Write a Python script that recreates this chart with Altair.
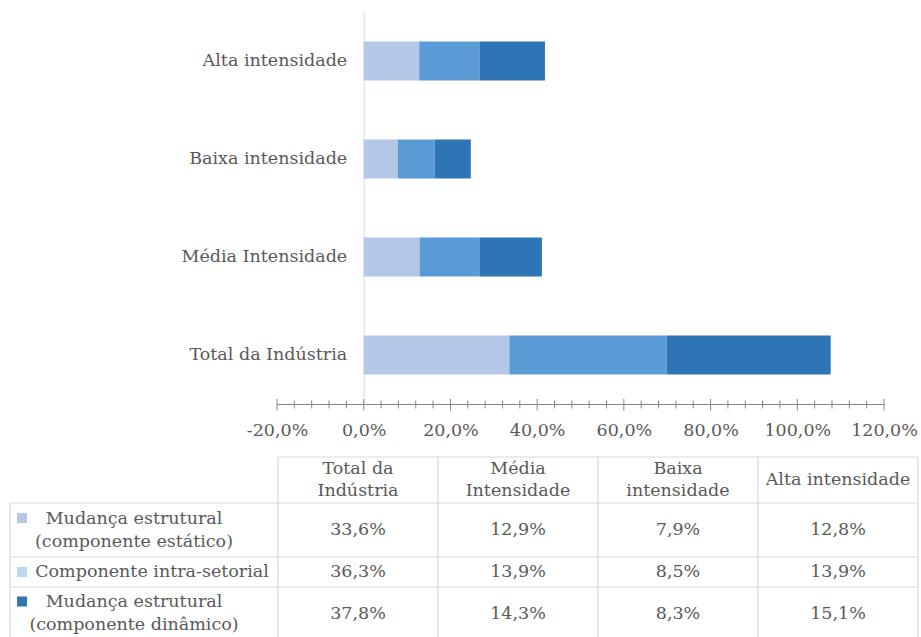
import altair as alt
import pandas as pd

# ---------------- data ----------------
categories = ["Total da Indústria", "Média Intensidade", "Baixa intensidade", "Alta intensidade"]
header_labels = ["Total da\nIndústria", "Média\nIntensidade", "Baixa\nintensidade", "Alta intensidade"]
series = ["Mudança estrutural (componente estático)",
          "Componente intra-setorial",
          "Mudança estrutural (componente dinâmico)"]
series_labels = ["Mudança estrutural\n(componente estático)",
                 "Componente intra-setorial",
                 "Mudança estrutural\n(componente dinâmico)"]
static_vals = [33.6, 12.9, 7.9, 12.8]
intra_vals = [36.3, 13.9, 8.5, 13.9]
dynamic_vals = [37.8, 14.3, 8.3, 15.1]
bar_colors = ["#B4C7E7", "#5B9BD5", "#2E75B6"]
swatch_colors = ["#B4C7E7", "#BDD7EE", "#2E75B6"]
x_tick_values = [-20, 0, 20, 40, 60, 80, 100, 120]
minor_tick_values = list(range(-20, 121, 4))

FONT = "DejaVu Serif"
FS = 17.5
TXT = "#595959"
GRID = "#D9D9D9"
AXIS = "#868686"

W, H = 607, 392

all_vals = [static_vals, intra_vals, dynamic_vals]
rows = []
for si, s in enumerate(series):
    for ci, c in enumerate(categories):
        rows.append({"category": c, "series": s, "sidx": si, "value": all_vals[si][ci]})
bar_df = pd.DataFrame(rows)
y_order = list(reversed(categories))

xscale = alt.Scale(domain=[-20, 120], nice=False, zero=False)

bars = alt.Chart(bar_df).mark_bar().encode(
    x=alt.X("value:Q", stack="zero", scale=xscale, title=None,
            axis=alt.Axis(values=x_tick_values, ticks=False, grid=False,
                          domainColor=AXIS, labelFont=FONT, labelFontSize=FS,
                          labelColor=TXT, labelPadding=17, labelFlush=False,
                          labelExpr="replace(replace(format(datum.value, '.1f'), '.', ','), '\u2212', '-') + '%'")),
    y=alt.Y("category:N", sort=y_order, title=None,
            scale=alt.Scale(paddingInner=0.6, paddingOuter=0.3),
            axis=alt.Axis(offset=-86.7, ticks=False, domainColor=GRID, grid=False,
                          labelFont=FONT, labelFontSize=FS, labelColor=TXT, labelPadding=17)),
    color=alt.Color("series:N", scale=alt.Scale(domain=series, range=bar_colors), legend=None),
    order=alt.Order("sidx:Q"),
)

tick_df = pd.DataFrame({"t": minor_tick_values,
                        "major": [v in x_tick_values for v in minor_tick_values]})
minor_ticks = alt.Chart(tick_df).transform_filter("!datum.major").mark_rule(color=AXIS).encode(
    x=alt.X("t:Q", scale=xscale, axis=None),
    y=alt.value(H - 3.5), y2=alt.value(H + 4.5),
)
major_ticks = alt.Chart(tick_df).transform_filter("datum.major").mark_rule(color=AXIS).encode(
    x=alt.X("t:Q", scale=xscale, axis=None),
    y=alt.value(H - 5), y2=alt.value(H + 6.5),
)

# ---------------- table ----------------
tx_scale = alt.Scale(domain=[0, 1, 5], range=[-267, 1, 641], nice=False, zero=False)
ty_scale = alt.Scale(domain=[0, 1, 2, 3, 4], range=[445, 491, 545, 575, 628], nice=False, zero=False)


def TX(f):
    return alt.X(f, type="quantitative", scale=tx_scale, axis=None)


def TY(f):
    return alt.Y(f, type="quantitative", scale=ty_scale, axis=None)


h_lines = pd.DataFrame({"r": [0, 1, 2, 3, 4], "c0": [1, 0, 0, 0, 0], "c1": [5, 5, 5, 5, 5]})
v_lines = pd.DataFrame({"c": [0, 1, 2, 3, 4, 5], "r0": [1, 0, 0, 0, 0, 0], "r1": [4, 4, 4, 4, 4, 4]})

hrule = alt.Chart(h_lines).mark_rule(color=GRID, strokeWidth=1.2).encode(
    x=TX("c0"), x2="c1", y=TY("r"))
vrule = alt.Chart(v_lines).mark_rule(color=GRID, strokeWidth=1.2).encode(
    x=TX("c"), y=TY("r0"), y2="r1")

head_df = pd.DataFrame({"label": header_labels,
                        "multi": ["\n" in h for h in header_labels],
                        "tx": [j + 1.5 for j in range(len(header_labels))],
                        "ty": [0.5] * len(header_labels)})
heads_multi = alt.Chart(head_df).transform_filter("datum.multi").mark_text(
    font=FONT, fontSize=FS, color=TXT, lineBreak="\n",
    lineHeight=22, align="center", baseline="middle", dy=-11).encode(
    x=TX("tx"), y=TY("ty"), text="label:N")
heads_single = alt.Chart(head_df).transform_filter("!datum.multi").mark_text(
    font=FONT, fontSize=FS, color=TXT, align="center", baseline="middle").encode(
    x=TX("tx"), y=TY("ty"), text="label:N")

cell_rows = []
for si in range(len(series)):
    for ci in range(len(categories)):
        cell_rows.append({"txt": f"{all_vals[si][ci]:.1f}".replace(".", ",") + "%",
                          "tx": ci + 1.5, "ty": si + 1.5})
cells = alt.Chart(pd.DataFrame(cell_rows)).mark_text(
    font=FONT, fontSize=FS, color=TXT, align="center", baseline="middle").encode(
    x=TX("tx"), y=TY("ty"), text="txt:N")

leg_df = pd.DataFrame({"label": series_labels, "series": series,
                       "multi": ["\n" in s for s in series_labels],
                       "tx": [0.5] * 3, "ty": [i + 1.5 for i in range(3)],
                       "sx": [0.045] * 3})
leg_multi = alt.Chart(leg_df).transform_filter("datum.multi").mark_text(
    font=FONT, fontSize=FS, color=TXT, lineBreak="\n", lineHeight=23,
    align="center", baseline="middle", dx=-10, dy=-11.5).encode(
    x=TX("tx"), y=TY("ty"), text="label:N")
leg_single = alt.Chart(leg_df).transform_filter("!datum.multi").mark_text(
    font=FONT, fontSize=FS, color=TXT, align="center", baseline="middle", dx=8).encode(
    x=TX("tx"), y=TY("ty"), text="label:N")

sw_scale = alt.Scale(domain=series, range=swatch_colors)
sw_multi = alt.Chart(leg_df).transform_filter("datum.multi").mark_square(
    size=100, opacity=1, yOffset=-12).encode(
    x=TX("sx"), y=TY("ty"),
    color=alt.Color("series:N", scale=sw_scale, legend=None))
sw_single = alt.Chart(leg_df).transform_filter("!datum.multi").mark_square(
    size=100, opacity=1).encode(
    x=TX("sx"), y=TY("ty"),
    color=alt.Color("series:N", scale=sw_scale, legend=None))

chart = alt.layer(
    bars, minor_ticks, major_ticks,
    hrule, vrule, heads_multi, heads_single, cells, leg_multi, leg_single, sw_multi, sw_single,
).resolve_scale(
    x="independent", y="independent", color="independent"
).properties(
    width=W, height=H,
    autosize=alt.AutoSizeParams(type="none"),
    padding={"left": 277, "top": 12, "right": 37, "bottom": 233},
    background="white",
).configure_view(stroke=None)

chart.save("out.html", embed_options={"renderer": "svg", "actions": False})
